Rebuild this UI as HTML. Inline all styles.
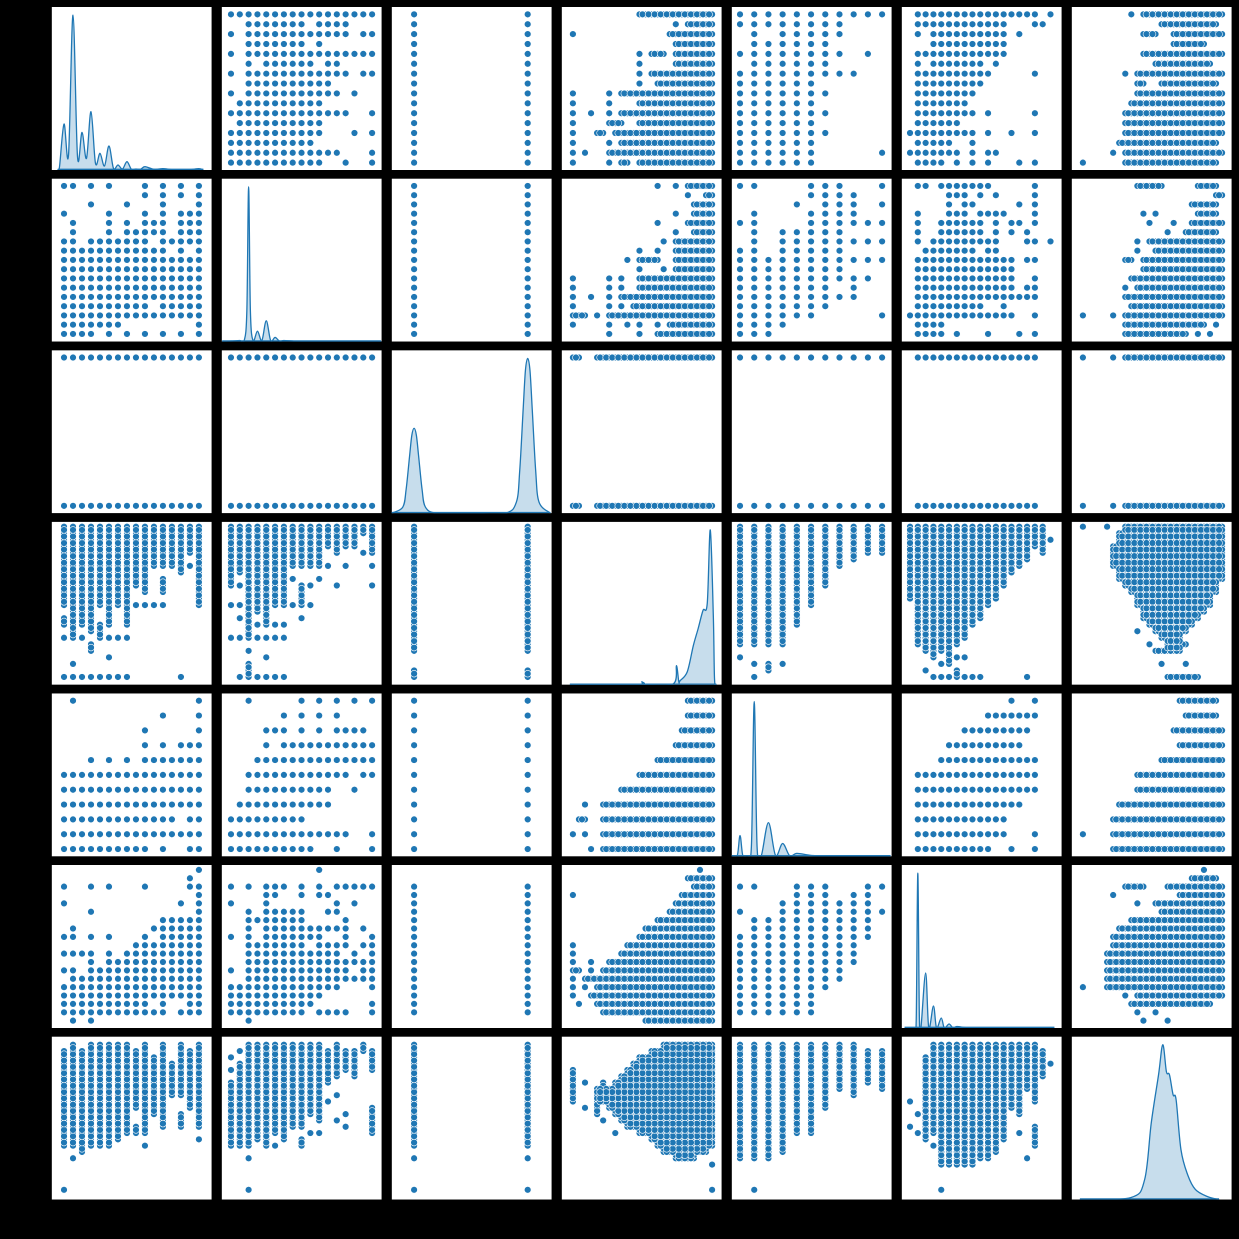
<!DOCTYPE html>
<html><head><meta charset="utf-8"><style>
html,body{margin:0;padding:0;background:#000;width:1239px;height:1239px;overflow:hidden}
svg{display:block}
</style></head><body>
<svg id="chart" width="1239" height="1239" viewBox="0 0 1239 1239" xmlns="http://www.w3.org/2000/svg">
<rect x="0" y="0" width="1239" height="1239" fill="#000"/>
</svg>
<script>
// ---- data ----
const varNames = ["v0","v1","v2","v3","v4","v5","v6"];
const varLevels = [16,17,2,24,11,19,24];
const continuousVars = [3,6];
// scatter pairs: key "yVar_xVar", rows from highest y-level to lowest, listing present x-levels
const pair_0_1 = ["0-16","2-8,10-13","0,2-13,15,16","2-8,10","0,2-16","2,4-9,11,12","0,2-13,15,16","2-11","0,2-12,14","1-10","0-13,16","1-10","0-10,14,16","0-9","0-12,16","0-10,13,16"];
const pair_0_2 = Array(16).fill("0-1");
const pair_0_3 = ["11-23","17,19-23","0,16-23","17-23","11,13-15,17-23","11,17-23","11,13-23","11,14-23","0,6,8-23","0,6,11-23","0,3,6,8-23","0,6-8,11-23","0,4,5,7-23","0,6,8-23","0,2,6-23","0,6,8,9,11-23"];
const pair_4_0 = ["1,15","11,15","9,15","9,11,13-15","3,5,7,9-15","0-15","0-15","0-15","0-12,14,15","0-15","0-9,11,14,15"];
const pair_0_5 = ["1-16,18","1-12,16,17","1,3-12,14","3-12","1-12","1,3-9,11","1-10,16","1-9","1-8","1-7","1-8,10,16","1-6","0-8,10,13,16","1-5,8","0-6,8,10,11","1-4,6,8,10,14,16"];
const pair_0_6 = ["8,10-23","13-22","10-12,15-23","15-20","10-23","12-21","7,9-23","9,10,13-22","9-23","8-23","7-23","7-23","7-23","6-22","5,7-23","0,7-22"];
const pair_1_2 = Array(17).fill("0-1");
const pair_1_3 = ["14,17,19-23","19,22,23","20-23","17,20-23","14,19-23","17,20-23","15,17-23","11,14,17-23","9,11-14,17-23","11,15,17-23","0,6,8,11-23","0,6,8,11-23","0,3,6,8-23","0,6,8,10-23","0,1,2,4,6-23","0,6,9,11,14,16-23","6,11,14-23"];
const pair_4_1 = ["2,8,10,12,14,16","6,8,10,12","4-6,8,10,12-15","4,6-16","3-16","2-13,15,16","2-11,14","1-11","0-8","0-13,16","0-9,12,16"];
const pair_1_5 = ["1,2,4-10,16","5-7,9,11,16","5,7,8,14,16","1,5-7,9-12,16","1,4-9,11,13,14,16","1,4-9,11,13,15","1,3-11,15,16,18","2-8,10,11","1-13,15,16","1-13","1-13,16","1-13,15,16","1-16","1-9,12","0-13,16","1-4","1-4,6,10,14,16"];
const pair_1_6 = ["9-13,19-22","22,23","18-22","10,12,19-22","11,15,18-23","14,17-22","9,11-23","9,12-23","7,8,10-23","10-23","8-23","7,9-23","7-23","8-23","0,5,7-23","7-20,22","7-17,19,21"];
const pair_2_3 = ["0,1,4-23","0,1,4-23"];
const pair_2_4 = ["0-10","0-10"];
const pair_2_5 = ["1-16","1-16"];
const pair_2_6 = ["0,5,7-23","0,5,7-23"];
const pair_4_3 = ["19-23","19-23","18-23","17-23","14-23","11-23","8-23","2,5-23","1,2,5-23","0,2,5-23","3,5-23"];
const pair_5_3 = ["21","19-23","20-23","0,18-23","17-23","16-23","14-23","12-23","11-23","0,9-23","0,8-23","0,3,6-23","0,1,3,5-23","0,2-23","0,2,4-23","0,3-23","1,4-23","5-23","12-23"];
const pair_3_6 = ["0,4,7-23","6-23","6-23","5-23","5-23","5-23","5-23","6-23","6-23","7-22","8-22","9-21","9-21","10-20","10-19","11-18","9,12-17","13-16","11,14-17","12-16","","13,17","","14-19"];
const pair_4_5 = ["13,16","10-16","7-15","5-14","4-16","1-16","1-16","1-14","1-12","1-12,16","1-10,13,16"];
const pair_4_6 = ["16-22","17-22","15-23","16-23","13-23","9-23","9-23","6-23","5-23","0,5-23","5-23"];
const pair_5_6 = ["20","18-22","7-10,14-23","5,16-23","9,12-23","13-23","8-23","6-23","5-23","5-23","4-23","4-23","4-23","4-23","0,4-23","7,9-23","8-21","9,12","10,14"];

// diagonal KDE samples (x in level units, y density)
const kde0X = [-0.7,-0.5,0,0.5,1,1.5,2,2.5,3,3.5,4,4.5,5,5.5,6,6.5,7,7.5,8,8.5,9,10,11,12,13,14,15,15.5];
const kde0Y = [0,10,138,45,465,40,113,35,175,20,50,12,72,5,15,3,25,2,3,2,10,2,4,1,1,1,4,0];
const kde1X = [-1,0,1,1.5,1.8,2,2.2,2.5,3,3.5,4,4.5,5,5.5,6,7,8,16,17];
const kde1Y = [0,0.5,1,1,30,149,30,1,10,1,20,1,4,0.5,1,0.5,0.3,0.2,0];
const kde2X = [-0.2,-0.1,-0.07,-0.04,-0.02,0,0.02,0.04,0.07,0.1,0.2,0.5,0.8,0.9,0.93,0.96,0.98,1,1.02,1.04,1.07,1.1,1.2];
const kde2Y = [0,6,24,57,78,85,78,57,24,6,0,0,0,11,43,104,143,155,143,104,43,11,0];
const kde3X = [-0.5,10.8,11.4,12,16.6,17.1,17.5,17.7,18.9,19.9,20.7,21.5,22.2,22.7,23.2,23.4,23.7];
const kde3Y = [0,0.3,3,0.3,1,19,3,4,13,39,56,74,81,154,69,6,0];
const kde4X = [-0.6,-0.2,0,0.2,0.5,0.8,1,1.2,1.5,2,2.5,3,3.5,4,5,6,10,10.6];
const kde4Y = [0,0.5,21,0.5,0.5,10,156,10,1,34,1,13,0.5,3,1,0.5,0.3,0];
const kde5X = [-0.7,0,0.6,0.8,1,1.2,1.4,2,2.4,3,3.4,4,4.4,5,5.5,6,7,8,18.5];
const kde5Y = [0,0.3,0.3,10,155,10,0.5,55,0.3,22,0.2,10,0.1,4,0.1,1.5,0.5,0.1,0];
const kde6X = [-0.5,7.9,10.2,11.3,12.5,13.2,13.8,14.3,14.9,15.4,16.2,17.3,18.6,20.6,22.5];
const kde6Y = [0,2,20,77,125,155,128,125,105,100,50,25,10,3,0];

const kdeXs = [kde0X,kde1X,kde2X,kde3X,kde4X,kde5X,kde6X];
const kdeYs = [kde0Y,kde1Y,kde2Y,kde3Y,kde4Y,kde5Y,kde6Y];
const pairs = {"0_1":pair_0_1,"0_2":pair_0_2,"0_3":pair_0_3,"4_0":pair_4_0,"0_5":pair_0_5,"0_6":pair_0_6,
 "1_2":pair_1_2,"1_3":pair_1_3,"4_1":pair_4_1,"1_5":pair_1_5,"1_6":pair_1_6,"2_3":pair_2_3,"2_4":pair_2_4,
 "2_5":pair_2_5,"2_6":pair_2_6,"4_3":pair_4_3,"5_3":pair_5_3,"3_6":pair_3_6,"4_5":pair_4_5,"4_6":pair_4_6,"5_6":pair_5_6};

// ---- layout ----
const NS = "http://www.w3.org/2000/svg";
const svg = document.getElementById("chart");
const PW = 160, PH = 163;
const fx = [[0.077,0.92],[0.058,0.94],[0.14,0.85],[0.07,0.94],[0.052,0.94],[0.052,0.93],[0.07,0.94]];
const fy = [[0.045,0.955],[0.047,0.955],[0.045,0.955],[0.048,0.97],[0.045,0.955],[0.045,0.97],[0.06,0.95]];
function pLeft(c){return 51.7+170*c;}
function pTop(r){return 7+171.6*r;}
function xScale(v,col,lvl){const f=fx[v];return pLeft(col)+PW*(f[0]+(f[1]-f[0])*lvl/(varLevels[v]-1));}
function yScale(v,row,lvl){const f=fy[v];return pTop(row)+PH*(1-(f[0]+(f[1]-f[0])*lvl/(varLevels[v]-1)));}
function parseList(s){const out=[];if(!s)return out;s.split(",").forEach(p=>{const a=p.split("-").map(Number);if(a.length==1)out.push(a[0]);else for(let k=a[0];k<=a[1];k++)out.push(k);});return out;}
// densify continuous variables: add midpoints between adjacent present bins
function densify(list,isCont){if(!isCont)return list;const set=new Set(list);const out=list.slice();list.forEach(k=>{if(set.has(k+1))out.push(k+0.5);});return out;}
function smoothPath(pts){
  let d="M"+pts[0][0].toFixed(2)+","+pts[0][1].toFixed(2);
  for(let i=0;i<pts.length-1;i++){
    const p0=pts[i-1]||pts[i],p1=pts[i],p2=pts[i+1],p3=pts[i+2]||p2;
    const c1x=p1[0]+(p2[0]-p0[0])/6,c1y=p1[1]+(p2[1]-p0[1])/6;
    const c2x=p2[0]-(p3[0]-p1[0])/6,c2y=p2[1]-(p3[1]-p1[1])/6;
    d+="C"+c1x.toFixed(2)+","+c1y.toFixed(2)+" "+c2x.toFixed(2)+","+c2y.toFixed(2)+" "+p2[0].toFixed(2)+","+p2[1].toFixed(2);
  }
  return d;
}

const defs=document.createElementNS(NS,"defs");svg.appendChild(defs);
for(let r=0;r<7;r++)for(let c=0;c<7;c++){
  const cp=document.createElementNS(NS,"clipPath");cp.setAttribute("id","clip"+r+c);
  const cr=document.createElementNS(NS,"rect");cr.setAttribute("x",pLeft(c));cr.setAttribute("y",pTop(r));cr.setAttribute("width",PW);cr.setAttribute("height",PH);
  cp.appendChild(cr);defs.appendChild(cp);
}

for(let r=0;r<7;r++)for(let c=0;c<7;c++){
  const g=document.createElementNS(NS,"g");
  
  
  g.setAttribute("clip-path","url(#clip"+r+c+")");
  svg.appendChild(g);
  const bg=document.createElementNS(NS,"rect");
  
  
  bg.setAttribute("x",pLeft(c));bg.setAttribute("y",pTop(r));bg.setAttribute("width",PW);bg.setAttribute("height",PH);bg.setAttribute("fill","#fff");
  g.appendChild(bg);
  if(r===c){
    const xs=kdeXs[r],ys=kdeYs[r];const dmax=Math.max(...ys);
    const base=pTop(r)+PH;
    const f=fx[r];const n=varLevels[r];
    const X=v=>pLeft(c)+PW*(f[0]+(f[1]-f[0])*v/(n-1));
    const Y=d=>base-PH*0.95*d/dmax;
    const pts=xs.map((xv,i)=>[X(xv),Y(ys[i])]);
    const d=smoothPath(pts);
    const fill=document.createElementNS(NS,"path");
    
    
    fill.setAttribute("d",d+"L"+X(xs[xs.length-1]).toFixed(2)+","+base+"L"+X(xs[0]).toFixed(2)+","+base+"Z");
    fill.setAttribute("fill","rgba(31,119,180,0.25)");g.appendChild(fill);
    const line=document.createElementNS(NS,"path");
    
    
    line.setAttribute("d",d);line.setAttribute("fill","none");line.setAttribute("stroke","#1f77b4");line.setAttribute("stroke-width","1.3");
    g.appendChild(line);
    const bl=document.createElementNS(NS,"line");
    
    
    bl.setAttribute("x1",X(xs[0]));bl.setAttribute("x2",X(xs[xs.length-1]));bl.setAttribute("y1",base-0.7);bl.setAttribute("y2",base-0.7);
    bl.setAttribute("stroke","#1f77b4");bl.setAttribute("stroke-width","1.3");
    g.appendChild(bl);
    continue;
  }
  let rows,transpose=false;
  if(pairs[r+"_"+c]){rows=pairs[r+"_"+c];}else{rows=pairs[c+"_"+r];transpose=true;}
  const yv=transpose?c:r, xv=transpose?r:c;
  const nY=varLevels[yv];
  const rowLevels=[];
  rows.forEach((s,i)=>{rowLevels.push([nY-1-i,densify(parseList(s),continuousVars.includes(xv))]);});
  // densify along the row-variable too when continuous
  if(continuousVars.includes(yv)){
    const extra=[];
    for(let i=0;i<rowLevels.length-1;i++){
      const a=new Set(rowLevels[i][1]);const common=rowLevels[i+1][1].filter(k=>a.has(k));
      if(common.length)extra.push([rowLevels[i][0]-0.5,common]);
    }
    extra.forEach(e=>rowLevels.push(e));
  }
  rowLevels.forEach(([ylvl,list])=>{
    list.forEach(xlvl=>{
      let cx,cy;
      if(!transpose){cx=xScale(c,c,xlvl);cy=yScale(r,r,ylvl);}
      else{cx=xScale(c,c,ylvl);cy=yScale(r,r,xlvl);}
      const pt=document.createElementNS(NS,"circle");
      
      
      pt.setAttribute("cx",cx.toFixed(2));pt.setAttribute("cy",cy.toFixed(2));pt.setAttribute("r","3.4");
      pt.setAttribute("fill","#1f77b4");pt.setAttribute("stroke","#fff");pt.setAttribute("stroke-width","0.6");
      g.appendChild(pt);
    });
  });
}
</script>
</body></html>
